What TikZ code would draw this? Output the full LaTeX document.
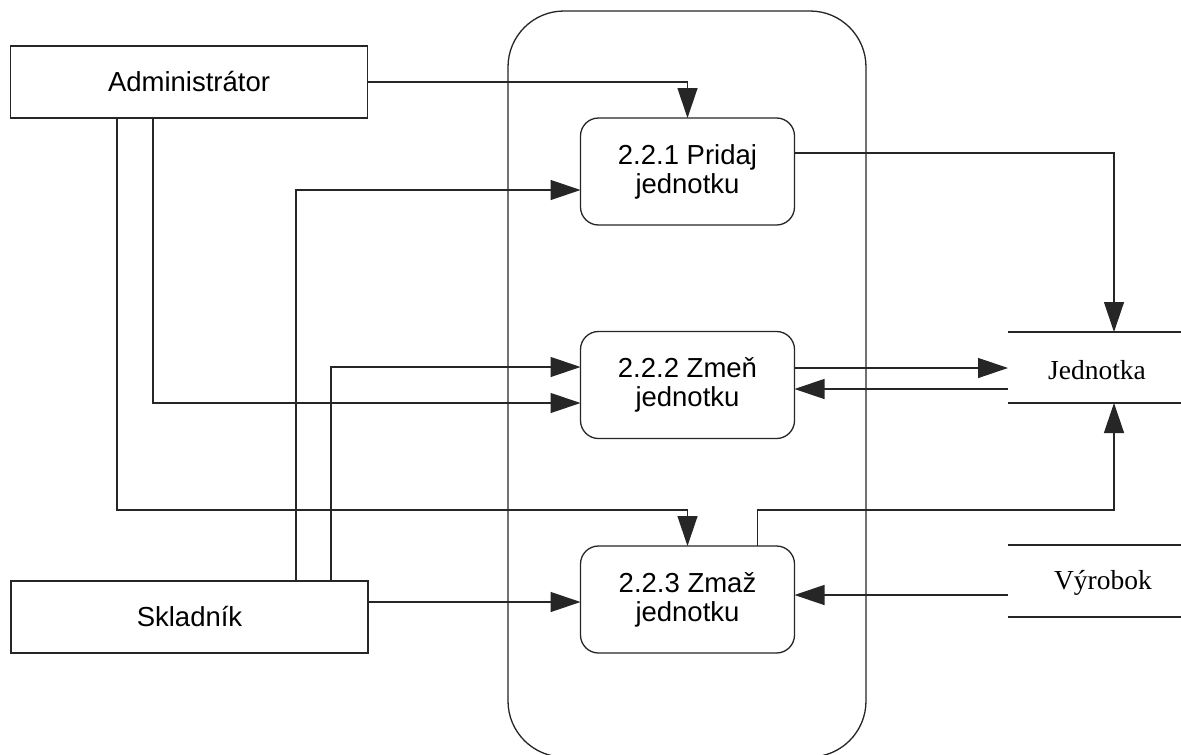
\documentclass[tikz,border=0pt]{standalone}
\usepackage{fontspec}
\setmainfont{Liberation Sans}
\newfontfamily\serifF{Liberation Serif}
\usetikzlibrary{arrows.meta}
\begin{document}
\begin{tikzpicture}[x=1pt,y=-1pt,
  every node/.style={inner sep=0pt, outer sep=0pt},
  line/.style={draw=black!85, line width=1.3pt},
  arr/.style={line, -{Triangle[length=30pt,width=20pt]}},
  entity/.style={line, rectangle, minimum width=357pt, minimum height=72pt, font=\fontsize{27.5}{30}\selectfont},
  proc/.style={line, rectangle, rounded corners=18pt, minimum width=214pt, minimum height=107pt, align=center, font=\fontsize{27.5}{29}\selectfont},
  storetext/.style={font=\serifF\fontsize{27.5}{30}\selectfont}
]
\useasboundingbox (0,0) rectangle (1181,755);
\fill[white] (0,0) rectangle (1181,755);

% big process boundary
\draw[line, rounded corners=56pt] (508,11) rectangle (866,757);

% entities
\node[entity] (adm) at (189,82) {Administrátor};
\node[entity] (sk) at (189.5,617) {Skladník};

% processes
\node[proc] (p1) at (687.5,171.5) {2.2.1 Pridaj\\jednotku};
\node[proc] (p2) at (687.5,385) {2.2.2 Zmeň\\jednotku};
\node[proc] (p3) at (687.5,599.5) {2.2.3 Zmaž\\jednotku};

% data stores
\draw[line] (1008,332) -- (1181,332);
\draw[line] (1008,403) -- (1181,403);
\node[storetext] (jed) at (1097,370) {Jednotka};
\draw[line] (1008,545) -- (1181,545);
\draw[line] (1008,617) -- (1181,617);
\node[storetext] (vyr) at (1103,583) {Výrobok};

\coordinate (jtop) at (1114,332);
\coordinate (jbot) at (1114,403);
\coordinate (jin) at (1008,368);
\coordinate (jout) at (1008,389);
\coordinate (vout) at (1008,595);
\coordinate (k1) at (687.5,510);
\coordinate (k2) at (1114,510);

% connectors
\draw[arr] (adm.east) -| (p1.north);
\draw[arr] ([yshift=18.5pt]p1.east) -| (jtop);
\draw[arr] ([xshift=-36pt]adm.south) |- ([yshift=-18pt]p2.west);
\draw[arr] ([xshift=-72pt]adm.south) |- (k1) -- (p3.north);
\draw[arr] ([xshift=106.5pt]sk.north) |- ([yshift=-18.5pt]p1.west);
\draw[arr] ([xshift=141.5pt]sk.north) |- ([yshift=18pt]p2.west);
\draw[arr] ([yshift=15pt]sk.east) -- ([yshift=15pt]sk.east -| p3.west);
\draw[arr] ([yshift=17pt]p2.east) -- (jin);
\draw[arr] (jout) -- (jout -| p2.east);
\draw[arr] ([xshift=70pt]p3.north) |- (k2) -- (jbot);
\draw[arr] (vout) -- (vout -| p3.east);
\end{tikzpicture}
\end{document}
